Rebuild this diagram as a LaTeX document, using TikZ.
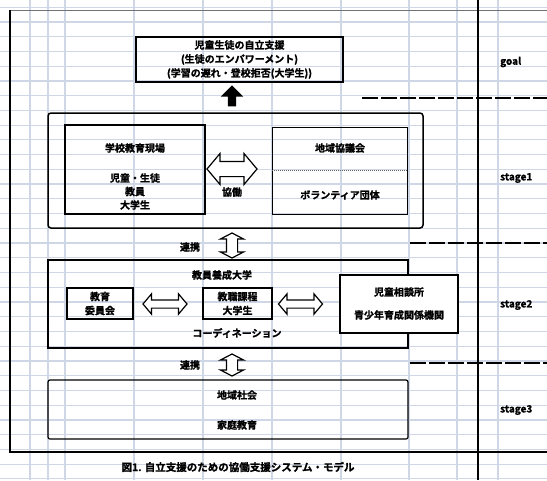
\documentclass[tikz,border=0pt]{standalone}
\usepackage{fontspec}
\setmainfont{Noto Sans CJK JP Bold}[FakeBold=1.2]
\usetikzlibrary{shapes.arrows}
\definecolor{gridline}{HTML}{CFD6E6}
\tikzset{
	frame/.style={draw, line width=#1, inner sep=0pt},
	frame/.default=1.5pt,
	lbl/.style={font=\fontsize{10}{14}\selectfont, align=center, inner sep=0pt},
	twoway/.style={double arrow, draw, fill=white, line width=1.2pt, double arrow tip angle=100, minimum height=#1},
	updown/.style={twoway=#1, double arrow tip angle=125, inner sep=5pt, double arrow head extend=6pt, shape border rotate=90},
	stagemark/.style={font=\fontsize{10}{12}\selectfont, anchor=west, inner sep=0pt},
	stageline/.style={line width=2pt, dash pattern=on 16pt off 3pt}
}
\begin{document}
\begin{tikzpicture}[x=1pt, y=-1pt]
	\useasboundingbox (0,0) rectangle (547,480);
	\fill[white] (0,0) rectangle (547,480);
	\foreach \k in {0,...,32}
		\draw[gridline, line width=1.2pt] (0,{7.2+14.74*\k}) -- (547,{7.2+14.74*\k});
	\foreach \x in {30,48,65,134,203,272,341,409,457,498}
		\draw[gridline, line width=1.5pt] (\x,0) -- (\x,480);
	\draw[black!55, line width=1pt] (10,10) -- (547,10);
	\draw[line width=1.5pt] (10,10) -- (10,452) -- (547,452);
	\draw[line width=2.5pt] (478,0) -- (478,480);
	\draw[stageline] (362,98) -- (547,98);
	\draw[stageline] (410,243) -- (547,243);
	\draw[stageline] (410,363) -- (547,363);

	\node[stagemark] (goalmark) at (500,62) {goal};
	\node[stagemark] (mark1) at (500,178) {stage1};
	\node[stagemark] (mark2) at (500,305) {stage2};
	\node[stagemark] (mark3) at (500,410) {stage3};

	\node[frame=2pt, minimum width=207pt, minimum height=45pt] (goal) at (239.5,59.5) {};
	\node[lbl] (goaltext) at (goal.center) {児童生徒の自立支援\\(生徒のエンパワーメント)\\(学習の遅れ・登校拒否(大学生))};
	\node[single arrow, fill=black, inner sep=4pt, single arrow head extend=7pt, minimum height=21pt, shape border rotate=90] (uparrow) at (232,98) {};

	\node[frame, rounded corners=3pt, minimum width=375pt, minimum height=115pt] (stage1) at (235.5,170.5) {};
	\node[frame=2pt, minimum width=140pt, minimum height=89pt] (school) at (135,169.5) {};
	\node[lbl] (schooltitle) at (135,148) {学校教育現場};
	\node[lbl, font=\fontsize{10}{13.5}\selectfont] (schoolmembers) at (135,191.5) {児童・生徒\\教員\\大学生};
	\node[frame=1pt, minimum width=135pt, minimum height=87pt] (local) at (339.5,170.5) {};
	\draw[black!60, densely dotted, line width=1pt] (local.west) -- (local.east);
	\node[lbl] (localtitle) at (340,148) {地域協議会};
	\node[lbl] (volunteer) at (340,195) {ボランティア団体};
	\node[twoway=50pt, inner sep=7pt, double arrow head extend=8pt] (collab) at (232,169) {};
	\node[lbl] (collablabel) at (232,192) {協働};

	\node[updown=25pt] (link12) at (232,245.5) {};
	\node[lbl] (link12label) at (190,247) {連携};

	\node[frame=2pt, minimum width=360pt, minimum height=88pt] (stage2) at (228,304) {};
	\node[lbl] (univ) at (222,275) {教員養成大学};
	\node[frame, minimum width=66pt, minimum height=31pt] (board) at (100,303.5) {};
	\node[lbl] (boardtext) at (board.center) {教育\\委員会};
	\node[frame, minimum width=69pt, minimum height=31pt] (course) at (237.5,303.5) {};
	\node[lbl] (coursetext) at (course.center) {教職課程\\大学生};
	\node[twoway=44pt, inner sep=3.5pt, double arrow head extend=6pt] (coord1) at (165,304) {};
	\node[twoway=44pt, inner sep=3.5pt, double arrow head extend=6pt] (coord2) at (300.5,304) {};
	\node[lbl] (coordlabel) at (237,333) {コーディネーション};
	\node[frame, fill=white, minimum width=118pt, minimum height=58pt] (welfare) at (399,304) {};
	\node[lbl] (welfare1) at (399,292) {児童相談所};
	\node[lbl] (welfare2) at (399,315) {青少年育成関係機関};

	\node[updown=22pt] (link23) at (232,365) {};
	\node[lbl] (link23label) at (190,365) {連携};

	\node[frame=1.2pt, rounded corners=2pt, minimum width=360pt, minimum height=59pt] (stage3) at (228,409.5) {};
	\node[lbl] (community) at (237,395) {地域社会};
	\node[lbl] (home) at (237,425) {家庭教育};

	\node[lbl, font=\fontsize{10.5}{12}\selectfont] (caption) at (238,467) {図1. 自立支援のための協働支援システム・モデル};
\end{tikzpicture}
\end{document}
